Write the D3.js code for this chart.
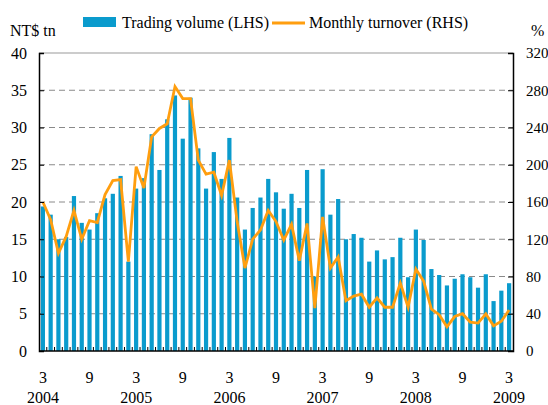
<!DOCTYPE html>
<html>
<head>
<meta charset="utf-8">
<script src="https://cdn.jsdelivr.net/npm/d3@7"></script>
<style>
  body { margin: 0; background: #fff; }
  svg text { font-family: "Liberation Serif", "DejaVu Serif", serif; fill: #000; }
</style>
</head>
<body>
<svg id="chart" width="548" height="405"></svg>
<script>
// Mar 2004 .. Mar 2009, monthly
const months = d3.range(61).map((i) => new Date(2004, 2 + i, 1));

// Trading volume, NT$ tn (LHS)
const volume = [
  19.4, 18.3, 15.0, 15.3, 20.8, 17.2, 16.3, 18.5, 20.5, 21.1,
  23.5, 12.0, 21.8, 23.2, 29.1, 24.3, 31.1, 34.3, 28.5, 34.0,
  27.2, 21.8, 26.7, 23.1, 28.6, 20.6, 16.3, 19.2, 20.6, 23.1,
  21.3, 19.1, 21.1, 19.2, 24.3, 10.0, 24.4, 18.3, 20.4, 15.0,
  15.7, 15.2, 12.0, 13.5, 12.3, 12.6, 15.2, 9.9, 16.3, 14.9,
  11.0, 10.2, 8.8, 9.7, 10.3, 9.9, 8.5, 10.3, 6.7, 8.1, 9.1
];

// Monthly turnover, % (RHS)
const turnover = [
  160, 141, 105, 123, 151, 120, 140, 138, 168, 183,
  184, 96, 198, 175, 230, 239, 244, 284, 271, 271,
  205, 190, 192, 167, 205, 139, 89, 120, 130, 151,
  139, 119, 136, 97, 137, 46, 144, 89, 101, 54,
  59, 61, 47, 57, 47, 47, 73, 47, 88, 75,
  45, 39, 26, 37, 40, 31, 30, 40, 27, 32, 44
];

const leftTicks = [0, 5, 10, 15, 20, 25, 30, 35, 40];
const rightTicks = [0, 40, 80, 120, 160, 200, 240, 280, 320];

const svg = d3.select("#chart");
const mLeft = 39, mRight = 513, mTop = 53, mBottom = 351;
const barColor = "#0a9bcd";
const lineColor = "#ff9e0f";

const x = d3.scaleBand().domain(d3.range(months.length)).range([mLeft, mRight]).paddingInner(0);
const yL = d3.scaleLinear().domain([0, 40]).range([mBottom, mTop]);
const yR = d3.scaleLinear().domain([0, 320]).range([mBottom, mTop]);
const cx = (i) => x(i) + x.bandwidth() / 2;

// gridlines
svg.append("g")
  .selectAll("line")
  .data(leftTicks.filter((d) => d > 0 && d < 40))
  .enter()
  .append("line")
  .attr("x1", mLeft)
  .attr("x2", mRight)
  .attr("y1", (d) => yL(d))
  .attr("y2", (d) => yL(d))
  .attr("stroke", "#8a8a8a")
  .attr("stroke-width", 1)
  .attr("stroke-dasharray", "6,4");

// top border
svg.append("line")
  .attr("x1", mLeft).attr("x2", mRight)
  .attr("y1", mTop).attr("y2", mTop)
  .attr("stroke", "#9a9a9a").attr("stroke-width", 1.2);

// bars
const barW = 4.2;
svg.append("g")
  .selectAll("rect")
  .data(volume)
  .enter()
  .append("rect")
  .attr("x", (d, i) => cx(i) - barW / 2)
  .attr("y", (d) => yL(d))
  .attr("width", barW)
  .attr("height", (d) => yL(0) - yL(d))
  .attr("fill", barColor);

// line
const line = d3.line()
  .x((d, i) => cx(i))
  .y((d) => yR(d));

svg.append("path")
  .datum(turnover)
  .attr("d", line)
  .attr("fill", "none")
  .attr("stroke", lineColor)
  .attr("stroke-width", 2.8)
  .attr("stroke-linejoin", "miter");

// axes
const axL = d3.axisLeft(yL).tickValues(leftTicks).tickSize(-5).tickPadding(12);
const gL = svg.append("g").attr("transform", `translate(${mLeft},0)`).call(axL);

const axR = d3.axisRight(yR).tickValues(rightTicks).tickSize(-5).tickPadding(13);
const gR = svg.append("g").attr("transform", `translate(${mRight},0)`).call(axR);

// bottom axis: ticks between months
const gB = svg.append("g");
gB.append("line")
  .attr("x1", mLeft).attr("x2", mRight)
  .attr("y1", mBottom).attr("y2", mBottom)
  .attr("stroke", "#000").attr("stroke-width", 1.5);
gB.selectAll("line.tk")
  .data(d3.range(1, months.length))
  .enter()
  .append("line")
  .attr("class", "tk")
  .attr("x1", (i) => x(i)).attr("x2", (i) => x(i))
  .attr("y1", mBottom).attr("y2", mBottom - 4)
  .attr("stroke", "#000").attr("stroke-width", 1);

[gL, gR].forEach((g) => {
  g.select(".domain").attr("stroke", "#000").attr("stroke-width", 1.5);
  g.selectAll(".tick line").attr("stroke", "#000");
  g.selectAll(".tick text").attr("font-size", 16)
    .style("font-family", '"Liberation Serif", serif');
});
gR.selectAll(".tick text").attr("font-size", 15);

// month / year labels
const labelIdx = d3.range(0, months.length, 6);
svg.append("g")
  .selectAll("text")
  .data(labelIdx)
  .enter()
  .append("text")
  .attr("x", (i) => cx(i))
  .attr("y", 383)
  .attr("text-anchor", "middle")
  .attr("font-size", 16)
  .text((i) => months[i].getMonth() + 1);

svg.append("g")
  .selectAll("text")
  .data(labelIdx.filter((i) => months[i].getMonth() === 2))
  .enter()
  .append("text")
  .attr("x", (i) => cx(i))
  .attr("y", 403)
  .attr("text-anchor", "middle")
  .attr("font-size", 16)
  .text((i) => months[i].getFullYear());

// units
svg.append("text").attr("x", 10).attr("y", 36).attr("font-size", 16).text("NT$ tn");
svg.append("text").attr("x", 531).attr("y", 36).attr("font-size", 16).text("%");

// legend
const lg = svg.append("g");
lg.append("rect").attr("x", 83).attr("y", 17).attr("width", 33).attr("height", 10).attr("fill", barColor);
lg.append("text").attr("x", 122).attr("y", 28).attr("font-size", 16).text("Trading volume (LHS)");
lg.append("line").attr("x1", 272).attr("x2", 305).attr("y1", 23).attr("y2", 23)
  .attr("stroke", lineColor).attr("stroke-width", 2.8);
lg.append("text").attr("x", 309).attr("y", 28).attr("font-size", 16).text("Monthly turnover (RHS)");
</script>
</body>
</html>
